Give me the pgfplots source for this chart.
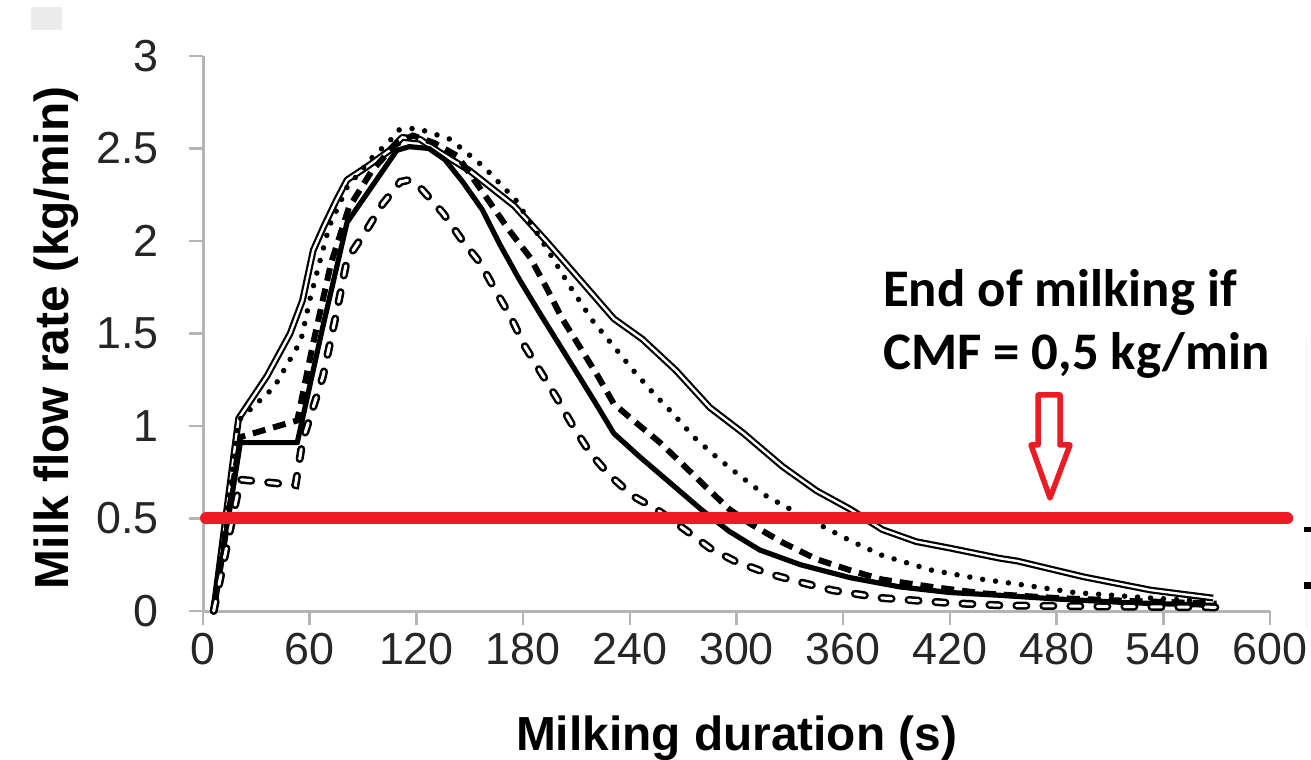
\documentclass[border=0pt]{standalone}
\usepackage{pgfplots}
\pgfplotsset{compat=1.18}
\usepackage{fontspec}
\setmainfont{Liberation Sans}
\newfontfamily\calibri{Carlito}
\definecolor{cmfred}{HTML}{ED1C24}
\definecolor{axisgray}{HTML}{B4B4B4}

\pgfplotstableread{
x y
6 0
20 1.04
36 1.27
49 1.50
56 1.68
62 1.95
68 2.08
75 2.22
81 2.33
92 2.40
105 2.49
112 2.56
122 2.55
133 2.48
150 2.38
175 2.19
193 2.00
212 1.79
231 1.58
247 1.47
266 1.30
285 1.10
304 0.96
326 0.78
345 0.65
364 0.55
382 0.44
401 0.375
420 0.34
448 0.285
458 0.27
495 0.185
533 0.113
568 0.07
}\doubledata

\pgfplotstableread{
x y
6 0
21 0.71
52 0.68
56 0.92
67.5 1.27
75 1.61
81 1.90
92 2.06
101 2.20
111 2.32
116 2.33
122 2.29
135 2.15
146 2.00
156 1.88
164 1.74
173 1.59
181 1.43
190 1.29
199 1.15
208 1.00
218 0.85
229 0.73
242 0.62
255 0.55
271 0.44
285 0.34
299 0.27
317 0.205
336 0.155
354 0.112
382 0.07
420 0.043
450 0.03
500 0.025
570 0.02
}\hollowdata

\begin{document}
\begin{tikzpicture}[x=1bp,y=1bp]
\useasboundingbox (0,0) rectangle (1311,759);
\clip (0,0) rectangle (1311,759);
\fill[gray!15] (31,729) rectangle (62,752);
\begin{axis}[
  at={(203bp,148bp)}, anchor=south west,
  scale only axis, width=1067bp, height=555bp,
  xmin=0, xmax=600, ymin=0, ymax=3,
  xtick={0,60,...,600}, ytick={0,0.5,...,3},
  axis x line*=bottom, axis y line*=left,
  axis line style={axisgray, line width=3bp},
  tick style={axisgray, line width=2.5bp},
  tick align=outside, major tick length=14bp,
  /pgf/number format/assume math mode=true,
  tick label style={font=\fontsize{45}{54}\selectfont, text=black!85},
  xticklabel style={inner sep=0pt, yshift=-8bp},
  yticklabel style={inner sep=0pt, xshift=-30bp},
  label style={font=\bfseries\fontsize{48}{58}\selectfont},
  xlabel={Milking duration (s)},
  ylabel={Milk flow rate (kg/min)},
  xlabel style={at={(axis description cs:0.5,-0.2505)}, anchor=base},
  ylabel style={at={(axis description cs:-0.1256,0.492)}, anchor=base},
  clip=false,
]
% double line: black outline, white core
\addplot[black, line width=6.8bp, line join=round] table {\doubledata};
\addplot[white, line width=2.4bp, line join=round] table {\doubledata};
% dotted
\addplot[black, line width=5.5bp, dash pattern=on 0bp off 13bp, line cap=round] coordinates {
(6,0) (20,1.03) (40,1.21) (55,1.46) (60,1.68) (66,1.90) (71,2.08) (81,2.29) (95,2.45)
(105,2.54) (110,2.60) (120,2.61) (139,2.55) (158,2.40) (176,2.22) (190,2.01) (199,1.87)
(206,1.76) (219,1.57) (231,1.43) (242,1.30) (253,1.18) (264,1.07) (276,0.94) (289,0.83)
(302,0.73) (317,0.62) (336,0.52) (354,0.43) (364,0.38) (382,0.30) (410,0.22) (439,0.17)
(462,0.14) (490,0.10) (533,0.07) (568,0.05)};
% dashed
\addplot[black, line width=6bp, dash pattern=on 13bp off 8bp] coordinates {
(6,0) (21,0.94) (53,1.03) (62,1.45) (72,1.88) (82,2.18) (95,2.38) (108,2.52) (118,2.57)
(130,2.53) (143,2.46) (159,2.24) (172,2.06) (184,1.91) (193,1.75) (202,1.58) (213,1.41)
(222,1.27) (231,1.12) (242,1.03) (257,0.91) (270,0.79) (285,0.65) (296,0.55) (308,0.47)
(326,0.37) (345,0.28) (364,0.22) (382,0.17) (410,0.13) (439,0.095) (480,0.07) (520,0.055) (570,0.04)};
% solid
\addplot[black, line width=5.2bp, line join=round] coordinates {
(6,0) (21,0.91) (53,0.91) (67,1.52) (81,2.10) (109,2.49) (116,2.51) (127,2.50) (136,2.44)
(146,2.32) (157,2.17) (167,1.98) (178,1.79) (190,1.60) (201,1.43) (212,1.26) (221,1.12)
(231,0.96) (246,0.83) (263,0.69) (280,0.55) (296,0.43) (313,0.33) (336,0.25) (364,0.18)
(392,0.13) (420,0.10) (448,0.085) (480,0.065) (520,0.045) (570,0.03)};
% hollow dashes: black ovals, white core
\addplot[black, line width=8bp, dash pattern=on 10bp off 17bp, line cap=round] table {\hollowdata};
\addplot[white, line width=3bp, dash pattern=on 10bp off 17bp, line cap=round] table {\hollowdata};
% threshold
\addplot[cmfred, line width=12bp, line cap=round] coordinates {(1.7,0.5) (609.7,0.5)};
\end{axis}
% annotation
\draw[cmfred, line width=5.5bp, fill=white, line join=round]
  (1038,364) -- (1060,364) -- (1060,314) -- (1070,314) -- (1050,261) -- (1031,314) -- (1038,314) -- cycle;
\node[anchor=base west, inner sep=0pt, font=\calibri\bfseries\fontsize{53}{63}\selectfont] at (883,452) {End of milking if};
\node[anchor=base west, inner sep=0pt, font=\calibri\bfseries\fontsize{53}{63}\selectfont] at (883,389) {CMF = 0,5 kg/min};
% edge marks
\draw[gray!12, line width=1bp] (1306,422) -- (1306,130);
\fill[black] (1304,227) rectangle (1311,232);
\fill[black] (1304,170) rectangle (1311,177);
\end{tikzpicture}
\end{document}
